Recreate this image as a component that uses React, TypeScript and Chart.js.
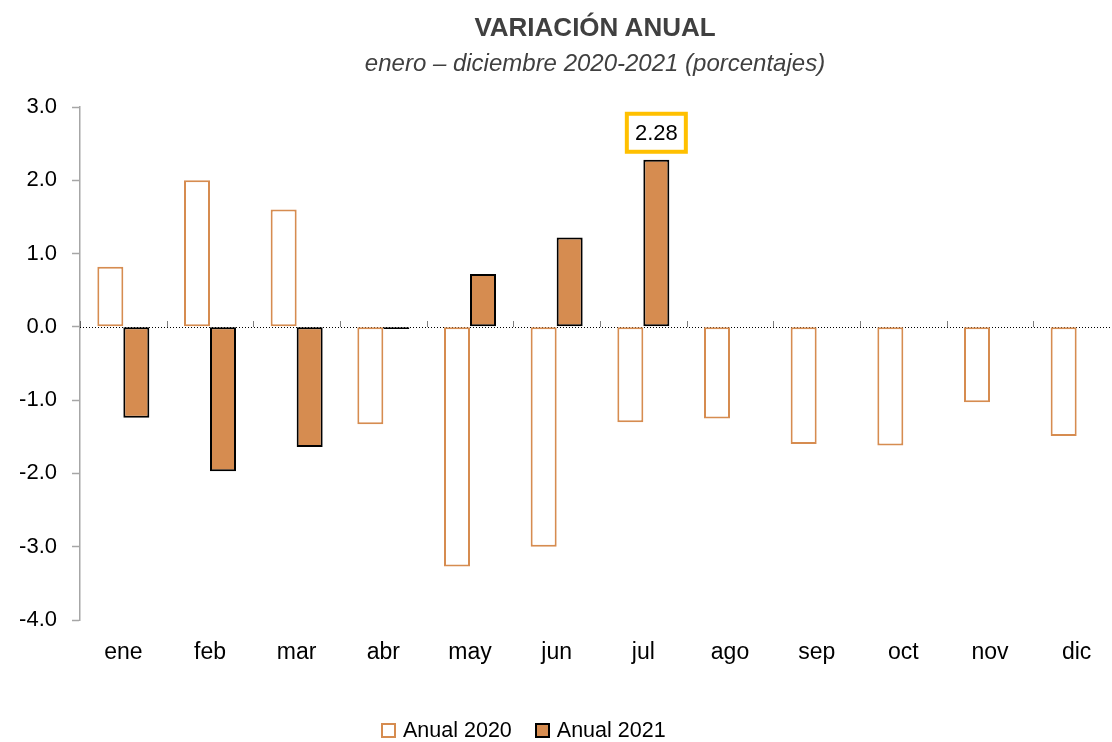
import React, { useEffect, useRef } from "react";
import { Chart, registerables } from "chart.js";

Chart.register(...registerables);

const categories = ["ene", "feb", "mar", "abr", "may", "jun", "jul", "ago", "sep", "oct", "nov", "dic"];
const anual2020 = [0.82, 2.0, 1.6, -1.33, -3.27, -3.0, -1.3, -1.25, -1.6, -1.62, -1.03, -1.49];
const anual2021: (number | null)[] = [-1.24, -1.97, -1.64, -0.03, 0.72, 1.22, 2.28, null, null, null, null, null];
const yTicks = [-4, -3, -2, -1, 0, 1, 2, 3];
const seriesNames = ["Anual 2020", "Anual 2021"];
const titleText = "VARIACIÓN ANUAL";
const subtitleText = "enero – diciembre 2020-2021 (porcentajes)";
const highlightIndex = 6;

const ORANGE = "#D68C50";
const FONT = "'Liberation Sans', Arial, sans-serif";

const zeroLinePlugin = {
  id: "zeroLine",
  beforeDatasetsDraw(chart: any) {
    const { ctx, chartArea, scales } = chart;
    const y0 = Math.round(scales.y.getPixelForValue(0)) + 0.5;
    ctx.save();
    ctx.strokeStyle = "#000";
    ctx.lineWidth = 1;
    ctx.setLineDash([1, 2]);
    ctx.beginPath();
    ctx.moveTo(chartArea.left, y0);
    ctx.lineTo(chartArea.right, y0);
    ctx.stroke();
    const xs = scales.x;
    const half = (xs.getPixelForValue(1) - xs.getPixelForValue(0)) / 2;
    ctx.setLineDash([1, 1]);
    for (let i = 0; i < categories.length; i++) {
      const bx = Math.round(xs.getPixelForValue(i) - half) + 0.5;
      ctx.beginPath();
      ctx.moveTo(bx, y0 - 6);
      ctx.lineTo(bx, y0);
      ctx.stroke();
    }
    ctx.restore();
  },
};

const highlightPlugin = {
  id: "highlight",
  afterDatasetsDraw(chart: any) {
    const { ctx } = chart;
    const meta = chart.getDatasetMeta(1);
    const bar = meta.data[highlightIndex];
    const v = anual2021[highlightIndex];
    if (!bar || v == null) return;
    const w = 59;
    const h = 38;
    const cx = bar.x;
    const bottom = bar.y - 8;
    ctx.save();
    ctx.fillStyle = "#fff";
    ctx.fillRect(cx - w / 2, bottom - h, w, h);
    ctx.strokeStyle = "#FFC000";
    ctx.lineWidth = 4;
    ctx.strokeRect(cx - w / 2, bottom - h, w, h);
    ctx.fillStyle = "#000";
    ctx.font = `22px ${FONT}`;
    ctx.textAlign = "center";
    ctx.textBaseline = "middle";
    ctx.fillText(v.toFixed(2), cx, bottom - h / 2 + 1);
    ctx.restore();
  },
};

export default function App() {
  const ref = useRef<HTMLCanvasElement | null>(null);

  useEffect(() => {
    if (!ref.current) return;
    const chart = new Chart(ref.current, {
      type: "bar",
      data: {
        labels: categories,
        datasets: [
          {
            label: seriesNames[0],
            data: anual2020,
            backgroundColor: "#FFFFFF",
            borderColor: ORANGE,
            borderWidth: 2,
            borderSkipped: false,
            barPercentage: 1,
            categoryPercentage: 0.6,
          },
          {
            label: seriesNames[1],
            data: anual2021,
            backgroundColor: ORANGE,
            borderColor: "#000000",
            borderWidth: 2,
            borderSkipped: false,
            barPercentage: 1,
            categoryPercentage: 0.6,
          },
        ],
      },
      options: {
        responsive: true,
        maintainAspectRatio: false,
        animation: false,
        layout: { padding: { top: 107, bottom: 62, left: 0, right: 0 } },
        plugins: {
          legend: { display: false },
          title: { display: false },
          tooltip: { enabled: false },
        },
        scales: {
          x: {
            grid: { display: false, drawTicks: false },
            border: { display: false },
            ticks: {
              color: "#000",
              font: { family: FONT, size: 23 },
              padding: 19,
              maxRotation: 0,
            },
            afterFit: (s: any) => {
              s.height = 60;
            },
          },
          y: {
            min: -4,
            max: 3,
            afterBuildTicks: (s: any) => {
              s.ticks = yTicks.map((v) => ({ value: v }));
            },
            ticks: {
              color: "#000",
              font: { family: FONT, size: 22 },
              padding: 15,
              callback: (v: any) => Number(v).toFixed(1),
            },
            grid: {
              drawOnChartArea: false,
              drawTicks: true,
              tickLength: 8,
              tickColor: "#A6A6A6",
              tickWidth: 1.5,
            },
            border: { color: "#A6A6A6", width: 1.5 },
            afterFit: (s: any) => {
              s.width = 80;
            },
          },
        },
      },
      plugins: [zeroLinePlugin, highlightPlugin],
    });
    return () => chart.destroy();
  }, []);

  const legendItem = (name: string, bg: string, bc: string, gap: number) => (
    <span style={{ display: "inline-flex", alignItems: "center", marginRight: gap }}>
      <span
        style={{
          display: "inline-block",
          width: 11,
          height: 11,
          background: bg,
          border: `2px solid ${bc}`,
          marginRight: 7,
        }}
      />
      <span>{name}</span>
    </span>
  );

  return (
    <div
      style={{
        position: "absolute",
        left: 0,
        top: 0,
        width: 1112,
        height: 742,
        overflow: "hidden",
        background: "#fff",
        fontFamily: FONT,
      }}
    >
      <div style={{ position: "absolute", left: 0, top: 0, width: 1120, height: 742 }}>
        <canvas ref={ref} />
      </div>
      <div
        style={{
          position: "absolute",
          left: 0,
          width: 1190,
          top: 12,
          textAlign: "center",
          fontWeight: "bold",
          fontSize: 26,
          lineHeight: "30px",
          color: "#404040",
        }}
      >
        {titleText}
      </div>
      <div
        style={{
          position: "absolute",
          left: 0,
          width: 1190,
          top: 48,
          textAlign: "center",
          fontStyle: "italic",
          fontSize: 24,
          lineHeight: "30px",
          color: "#404040",
        }}
      >
        {subtitleText}
      </div>
      <div
        style={{
          position: "absolute",
          left: 381,
          top: 716,
          fontSize: 21.5,
          lineHeight: "28px",
          color: "#000",
          whiteSpace: "nowrap",
          display: "flex",
        }}
      >
        {legendItem(seriesNames[0], "#fff", ORANGE, 23)}
        {legendItem(seriesNames[1], ORANGE, "#000", 0)}
      </div>
    </div>
  );
}
